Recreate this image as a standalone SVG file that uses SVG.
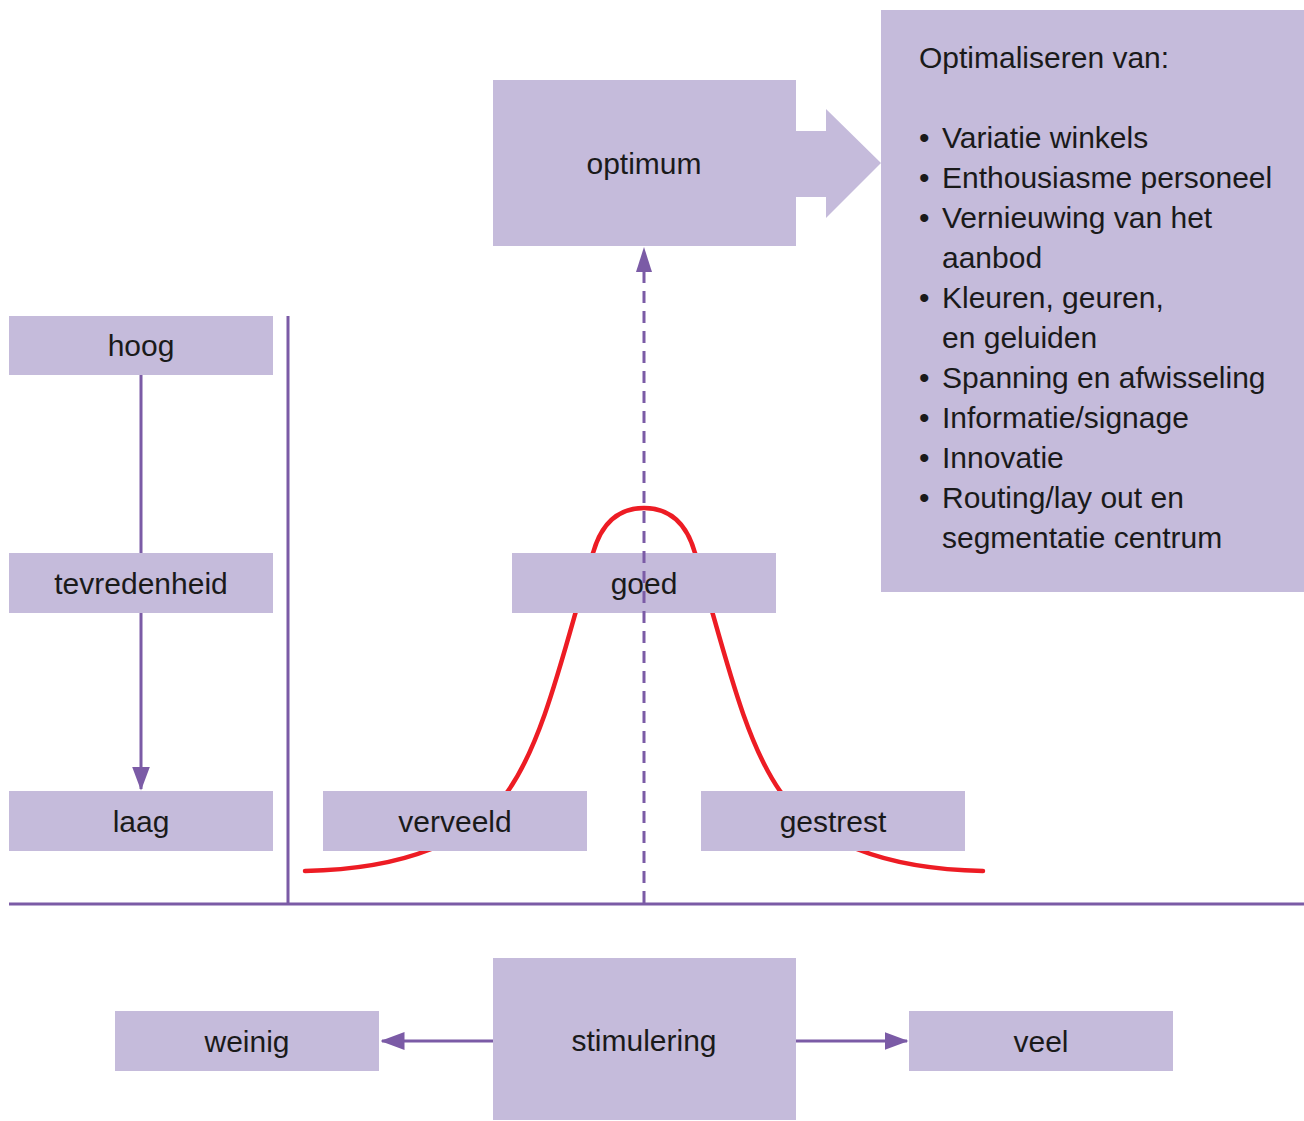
<svg xmlns="http://www.w3.org/2000/svg" width="1304" height="1121" viewBox="0 0 1304 1121">
<style>
.box{fill:#C5BBDB}
.lbl{font-family:"Liberation Sans",Arial,sans-serif;font-size:30px;fill:#1a1a1a;text-anchor:middle}
.lst{font-family:"Liberation Sans",Arial,sans-serif;font-size:30px;fill:#1a1a1a}
.ln{stroke:#7B5BA6;stroke-width:3;fill:none}
</style>
<defs>
<marker id="ah" markerWidth="8" markerHeight="6" refX="7.5" refY="3" orient="auto" markerUnits="strokeWidth">
<path d="M0,0 L8,3 L0,6 Z" fill="#7B5BA6"/>
</marker>
</defs>
<rect width="1304" height="1121" fill="#fff"/>
<path d="M305,871 C400,869 470,845 508,791 C546,737 566,640 593,553 C602,521 620,508 644,508 C668,508 686,521 695,553 C722,640 742,737 780,791 C818,845 888,869 983,871" fill="none" stroke="#ED1C24" stroke-width="4.5" stroke-linecap="round"/>
<g id="connectors">
<line class="ln" x1="141" y1="375" x2="141" y2="789" marker-end="url(#ah)"/>
<line class="ln" x1="288" y1="316" x2="288" y2="905"/>
<line class="ln" x1="9" y1="904" x2="1304" y2="904"/>
<line class="ln" x1="493" y1="1041" x2="382" y2="1041" marker-end="url(#ah)"/>
<line class="ln" x1="796" y1="1041" x2="907" y2="1041" marker-end="url(#ah)"/>
</g>
<g id="optimum">
<rect class="box" x="493" y="80" width="303" height="166"/>
<path class="box" d="M796,131 L826,131 L826,109 L881,163 L826,218 L826,197 L796,197 Z"/>
<text class="lbl" x="644" y="174">optimum</text>
</g>
<g id="lijst">
<rect class="box" x="881" y="10" width="423" height="582"/>
<text class="lst" x="919" y="68">Optimaliseren van:</text>
<g class="lst">
<text x="919" y="148">•</text><text x="942" y="148">Variatie winkels</text>
<text x="919" y="188">•</text><text x="942" y="188">Enthousiasme personeel</text>
<text x="919" y="228">•</text><text x="942" y="228">Vernieuwing van het</text>
<text x="942" y="268">aanbod</text>
<text x="919" y="308">•</text><text x="942" y="308">Kleuren, geuren,</text>
<text x="942" y="348">en geluiden</text>
<text x="919" y="388">•</text><text x="942" y="388">Spanning en afwisseling</text>
<text x="919" y="428">•</text><text x="942" y="428">Informatie/signage</text>
<text x="919" y="468">•</text><text x="942" y="468">Innovatie</text>
<text x="919" y="508">•</text><text x="942" y="508">Routing/lay out en</text>
<text x="942" y="548">segmentatie centrum</text>
</g>
</g>
<g id="hoog"><rect class="box" x="9" y="316" width="264" height="59"/><text class="lbl" x="141" y="356">hoog</text></g>
<g id="tevredenheid"><rect class="box" x="9" y="553" width="264" height="60"/><text class="lbl" x="141" y="594">tevredenheid</text></g>
<g id="laag"><rect class="box" x="9" y="791" width="264" height="60"/><text class="lbl" x="141" y="832">laag</text></g>
<g id="goed"><rect class="box" x="512" y="553" width="264" height="60"/><text class="lbl" x="644" y="594">goed</text></g>
<g id="verveeld"><rect class="box" x="323" y="791" width="264" height="60"/><text class="lbl" x="455" y="832">verveeld</text></g>
<g id="gestrest"><rect class="box" x="701" y="791" width="264" height="60"/><text class="lbl" x="833" y="832">gestrest</text></g>
<g id="stimulering"><rect class="box" x="493" y="958" width="303" height="162"/><text class="lbl" x="644" y="1051">stimulering</text></g>
<g id="weinig"><rect class="box" x="115" y="1011" width="264" height="60"/><text class="lbl" x="247" y="1052">weinig</text></g>
<g id="veel"><rect class="box" x="909" y="1011" width="264" height="60"/><text class="lbl" x="1041" y="1052">veel</text></g>
<g id="dashed">
<line x1="644" y1="903" x2="644" y2="268" stroke="#7B5BA6" stroke-width="3" stroke-dasharray="12,8"/>
<path d="M644,247 L652,272 L636,272 Z" fill="#7B5BA6"/>
</g>
</svg>
